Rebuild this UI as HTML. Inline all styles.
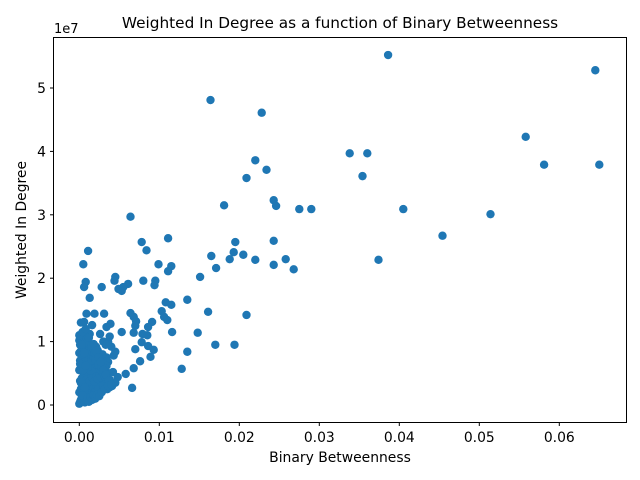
<!DOCTYPE html>
<html><head><meta charset="utf-8"><style>
body{margin:0;background:#fff;}
svg{display:block;font-family:"DejaVu Sans","Liberation Sans",sans-serif;}
</style></head><body>
<svg id="chart" width="640" height="480" viewBox="0 0 640 480">
<rect width="640" height="480" fill="#fff"/>
<text x="340" y="28" font-size="15.3" text-anchor="middle" fill="#000">Weighted In Degree as a function of Binary Betweenness</text>
<text x="54" y="33" font-size="13" fill="#000">1e7</text>
<text x="340" y="462" font-size="13.9" text-anchor="middle" fill="#000">Binary Betweenness</text>
<text transform="translate(26,230) rotate(-90)" font-size="13.9" text-anchor="middle" fill="#000">Weighted In Degree</text>
<g id="ticks"></g>
<g id="points"></g>
<rect x="53.5" y="37.5" width="573" height="385" fill="none" stroke="#000" stroke-width="1"/>
</svg>
<script>
// betweenness values and weighted in-degree (units of 1e7)
const xTicks = [0.00, 0.01, 0.02, 0.03, 0.04, 0.05, 0.06];
const xTickLabels = ["0.00","0.01","0.02","0.03","0.04","0.05","0.06"];
const yTicks = [0, 1, 2, 3, 4, 5];
const yTickLabels = ["0","1","2","3","4","5"];
const outlierX = [0.0386,0.0645,0.0164,0.0228,0.0558,0.0338,0.0360,0.0581,0.0650,0.0220,0.0234,0.0354,0.0209,0.0181,0.0243,0.0246,0.0275,0.0290,0.0405,0.0514,0.0064,0.0454,0.0111,0.0078,0.0195,0.0243,0.0084,0.0011,0.0193,0.0205,0.0165,0.0258,0.0188,0.0220,0.0374,0.0005,0.0099,0.0115,0.0111,0.0171,0.0268,0.0243,0.0151,0.0045,0.0044,0.0080,0.0095,0.0008,0.0061,0.0094,0.0055,0.0028,0.0006,0.0049,0.0053,0.0013,0.0135,0.0108,0.0115,0.0161,0.0103,0.0064,0.0019,0.0031,0.0106,0.0209,0.0009,0.0068,0.0110,0.0091,0.0071,0.0039,0.0006,0.0016,0.0034,0.0086,0.0070,0.0116,0.0148,0.0053,0.0068,0.0079,0.0085,0.0013,0.0078,0.0086,0.0170,0.0194,0.0070,0.0093,0.0135,0.0089,0.0045,0.0076,0.0068,0.0128,0.0058,0.0048,0.0066,0.0035];
const outlierY = [5.52,5.28,4.81,4.61,4.23,3.97,3.97,3.79,3.79,3.86,3.71,3.61,3.58,3.15,3.23,3.14,3.09,3.09,3.09,3.01,2.97,2.67,2.63,2.57,2.57,2.59,2.44,2.43,2.41,2.37,2.35,2.30,2.30,2.29,2.29,2.22,2.22,2.19,2.11,2.16,2.14,2.21,2.02,2.02,1.96,1.96,1.96,1.94,1.91,1.89,1.86,1.86,1.86,1.83,1.80,1.69,1.66,1.62,1.58,1.47,1.48,1.45,1.44,1.44,1.39,1.42,1.44,1.39,1.34,1.31,1.32,1.28,1.31,1.26,1.23,1.23,1.25,1.15,1.14,1.15,1.14,1.12,1.10,1.12,0.99,0.93,0.95,0.95,0.88,0.87,0.84,0.76,0.84,0.69,0.58,0.57,0.49,0.44,0.27,0.25];
const clusterX = [0.0000,0.0001,0.0002,0.0003,0.0004,0.0005,0.0006,0.0007,0.0008,0.0009,0.0000,0.0002,0.0004,0.0006,0.0008,0.0010,0.0012,0.0014,0.0016,0.0018,0.0020,0.0022,0.0024,0.0026,0.0028,0.0030,0.0032,0.0034,0.0036,0.0038,0.0001,0.0003,0.0005,0.0007,0.0009,0.0011,0.0013,0.0015,0.0017,0.0019,0.0021,0.0023,0.0025,0.0027,0.0029,0.0031,0.0033,0.0000,0.0002,0.0004,0.0006,0.0008,0.0010,0.0012,0.0014,0.0016,0.0018,0.0020,0.0022,0.0024,0.0026,0.0028,0.0030,0.0032,0.0034,0.0036,0.0001,0.0003,0.0005,0.0007,0.0009,0.0011,0.0013,0.0015,0.0017,0.0019,0.0021,0.0023,0.0025,0.0027,0.0029,0.0031,0.0000,0.0002,0.0004,0.0006,0.0008,0.0010,0.0012,0.0014,0.0016,0.0018,0.0020,0.0022,0.0024,0.0026,0.0028,0.0030,0.0032,0.0034,0.0038,0.0042,0.0045,0.0001,0.0003,0.0005,0.0007,0.0009,0.0011,0.0013,0.0015,0.0017,0.0019,0.0021,0.0023,0.0026,0.0029,0.0032,0.0035,0.0040,0.0044,0.0000,0.0002,0.0004,0.0006,0.0008,0.0010,0.0012,0.0015,0.0018,0.0021,0.0024,0.0027,0.0030,0.0033,0.0037,0.0041,0.0000,0.0001,0.0002,0.0003,0.0004,0.0005,0.0006,0.0007,0.0008,0.0010,0.0012,0.0014,0.0016,0.0018,0.0020,0.0022,0.0025,0.0028,0.0032,0.0036,0.0040,0.0036,0.0040,0.0043,0.0038,0.0030,0.0026,0.0033,0.0004,0.0008,0.0002];
const clusterY = [0.02,0.05,0.08,0.12,0.06,0.10,0.15,0.04,0.09,0.13,0.20,0.25,0.30,0.22,0.28,0.18,0.24,0.32,0.20,0.26,0.22,0.30,0.27,0.18,0.35,0.30,0.25,0.40,0.33,0.28,0.38,0.42,0.45,0.36,0.40,0.44,0.38,0.46,0.42,0.37,0.48,0.41,0.50,0.44,0.52,0.47,0.55,0.55,0.60,0.58,0.52,0.62,0.57,0.65,0.54,0.60,0.68,0.58,0.63,0.70,0.56,0.66,0.72,0.62,0.75,0.68,0.70,0.75,0.72,0.68,0.78,0.74,0.80,0.70,0.77,0.82,0.73,0.66,0.78,0.60,0.70,0.55,0.82,0.85,0.80,0.88,0.84,0.90,0.86,0.80,0.84,0.76,0.72,0.88,0.64,0.78,0.60,0.50,0.45,0.62,0.40,0.52,0.35,0.95,0.92,0.98,0.94,0.90,0.96,0.88,0.85,0.90,0.82,0.92,0.86,0.70,0.80,0.58,0.45,0.30,0.35,1.02,1.05,1.00,1.04,1.08,0.98,1.06,0.94,0.96,0.85,0.75,0.68,0.55,0.48,0.38,0.30,1.10,0.65,0.35,0.95,0.15,0.55,0.82,0.28,0.62,0.10,0.05,0.12,0.08,0.15,0.10,0.16,0.14,0.20,0.25,0.30,0.32,1.00,0.92,0.78,1.08,1.00,1.12,0.95,1.15,1.20,1.30];
const allX = outlierX.concat(clusterX);
const allY = outlierY.concat(clusterY);
const NS='http://www.w3.org/2000/svg';
function sx(v){return 79.3 + v*8000;}
function sy(v){return 405 - v*63.4;}
const tg=document.getElementById('ticks');
xTicks.forEach((t,i)=>{
  const l=document.createElementNS(NS,'line');
  l.setAttribute('x1',sx(t));l.setAttribute('x2',sx(t));l.setAttribute('y1',422.5);l.setAttribute('y2',426);l.setAttribute('stroke','#000');
  
  
  tg.appendChild(l);
  const tx=document.createElementNS(NS,'text');
  tx.setAttribute('x',sx(t));tx.setAttribute('y',442);tx.setAttribute('font-size','13.9');tx.setAttribute('text-anchor','middle');
  tx.textContent=xTickLabels[i];
  
  
  tg.appendChild(tx);
});
yTicks.forEach((t,i)=>{
  const l=document.createElementNS(NS,'line');
  l.setAttribute('x1',50);l.setAttribute('x2',53.5);l.setAttribute('y1',sy(t));l.setAttribute('y2',sy(t));l.setAttribute('stroke','#000');
  
  
  tg.appendChild(l);
  const tx=document.createElementNS(NS,'text');
  tx.setAttribute('x',46);tx.setAttribute('y',sy(t)+5);tx.setAttribute('font-size','13.9');tx.setAttribute('text-anchor','end');
  tx.textContent=yTickLabels[i];
  
  
  tg.appendChild(tx);
});
const pg=document.getElementById('points');
allX.forEach((x,i)=>{
  const c=document.createElementNS(NS,'circle');
  c.setAttribute('cx',sx(x));c.setAttribute('cy',sy(allY[i]));c.setAttribute('r',4.2);c.setAttribute('fill','#1f77b4');
  
  
  pg.appendChild(c);
});
</script>
</body></html>
